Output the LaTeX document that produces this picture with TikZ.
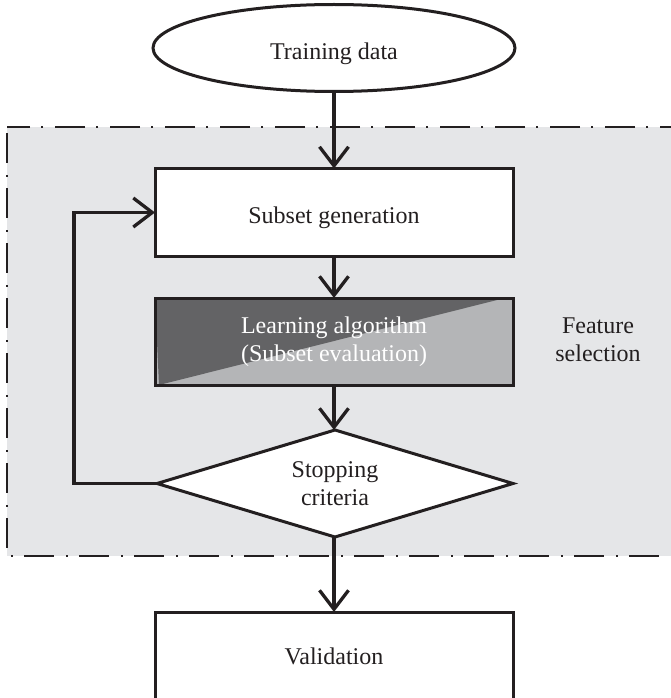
\documentclass[tikz,border=0pt]{standalone}
\usepackage{fontspec}
\setmainfont{Liberation Serif}
\usetikzlibrary{shapes.geometric,arrows.meta}
\definecolor{ink}{HTML}{231F20}
\definecolor{regionfill}{HTML}{E5E6E8}
\definecolor{evaldark}{HTML}{636365}
\definecolor{evallight}{HTML}{B4B5B7}
\tikzset{
  txt/.style={font=\fontsize{24}{28}\selectfont, text=ink, align=center},
  oneline/.style={text height=21pt, text depth=0pt},
  box/.style={txt, rectangle, draw=ink, line width=3pt, fill=white,
              minimum width=358pt, inner sep=0pt, outer sep=0pt},
  arr/.style={draw=ink, line width=3.3pt,
              -{Straight Barb[length=19pt,width=29pt,line width=3.3pt]}},
}
\begin{document}
\begin{tikzpicture}[x=1pt,y=-1pt]
\useasboundingbox (0,0) rectangle (670,698);

% feature-selection region (dash-dot frame)
\draw[fill=regionfill, draw=ink, line width=2.5pt,
      dash pattern=on 30pt off 12pt on 2pt off 11pt, dash phase=-6pt]
  (7,127) rectangle (720,556);

% nodes
\node[txt, oneline, text height=23pt, ellipse, draw=ink, line width=3pt, fill=white,
      minimum width=362pt, minimum height=87pt, inner sep=0pt, outer sep=0pt]
  (train) at (334,48) {Training data};

\node[box, oneline, minimum height=88pt] (subset) at (334,212.5) {Subset generation};

\node[box, minimum height=87pt, fill=evallight, text=white,
      path picture={\fill[evaldark]
        ([xshift=4pt]path picture bounding box.south west) --
        ([xshift=-8pt]path picture bounding box.north east) --
        (path picture bounding box.north west) -- cycle;}]
  (learn) at (334,341.5) {Learning algorithm\\(Subset evaluation)};

\node[diamond, draw=ink, line width=3pt, fill=white,
      minimum width=356pt, minimum height=107pt, inner sep=0pt, outer sep=0pt]
  (stop) at (335,483.5) {};
\node[txt] (stoptext) at (stop.center) {Stopping\\criteria};

\node[box, text height=16pt, text depth=8pt, minimum height=96pt]
  (valid) at (334,660) {Validation};

\node[txt] (fs) at (598,340) {Feature\\selection};

% connectors
\draw[arr] (train.south) -- (subset.north);
\draw[arr] (subset.south) -- (learn.north);
\draw[arr] (learn.south) -- (learn.south |- stop.north);
\draw[arr] (valid.north |- stop.south) -- (valid.north);
\draw[arr] (stop.west) -- ++(-83,0) |- (subset.west);
\end{tikzpicture}
\end{document}
